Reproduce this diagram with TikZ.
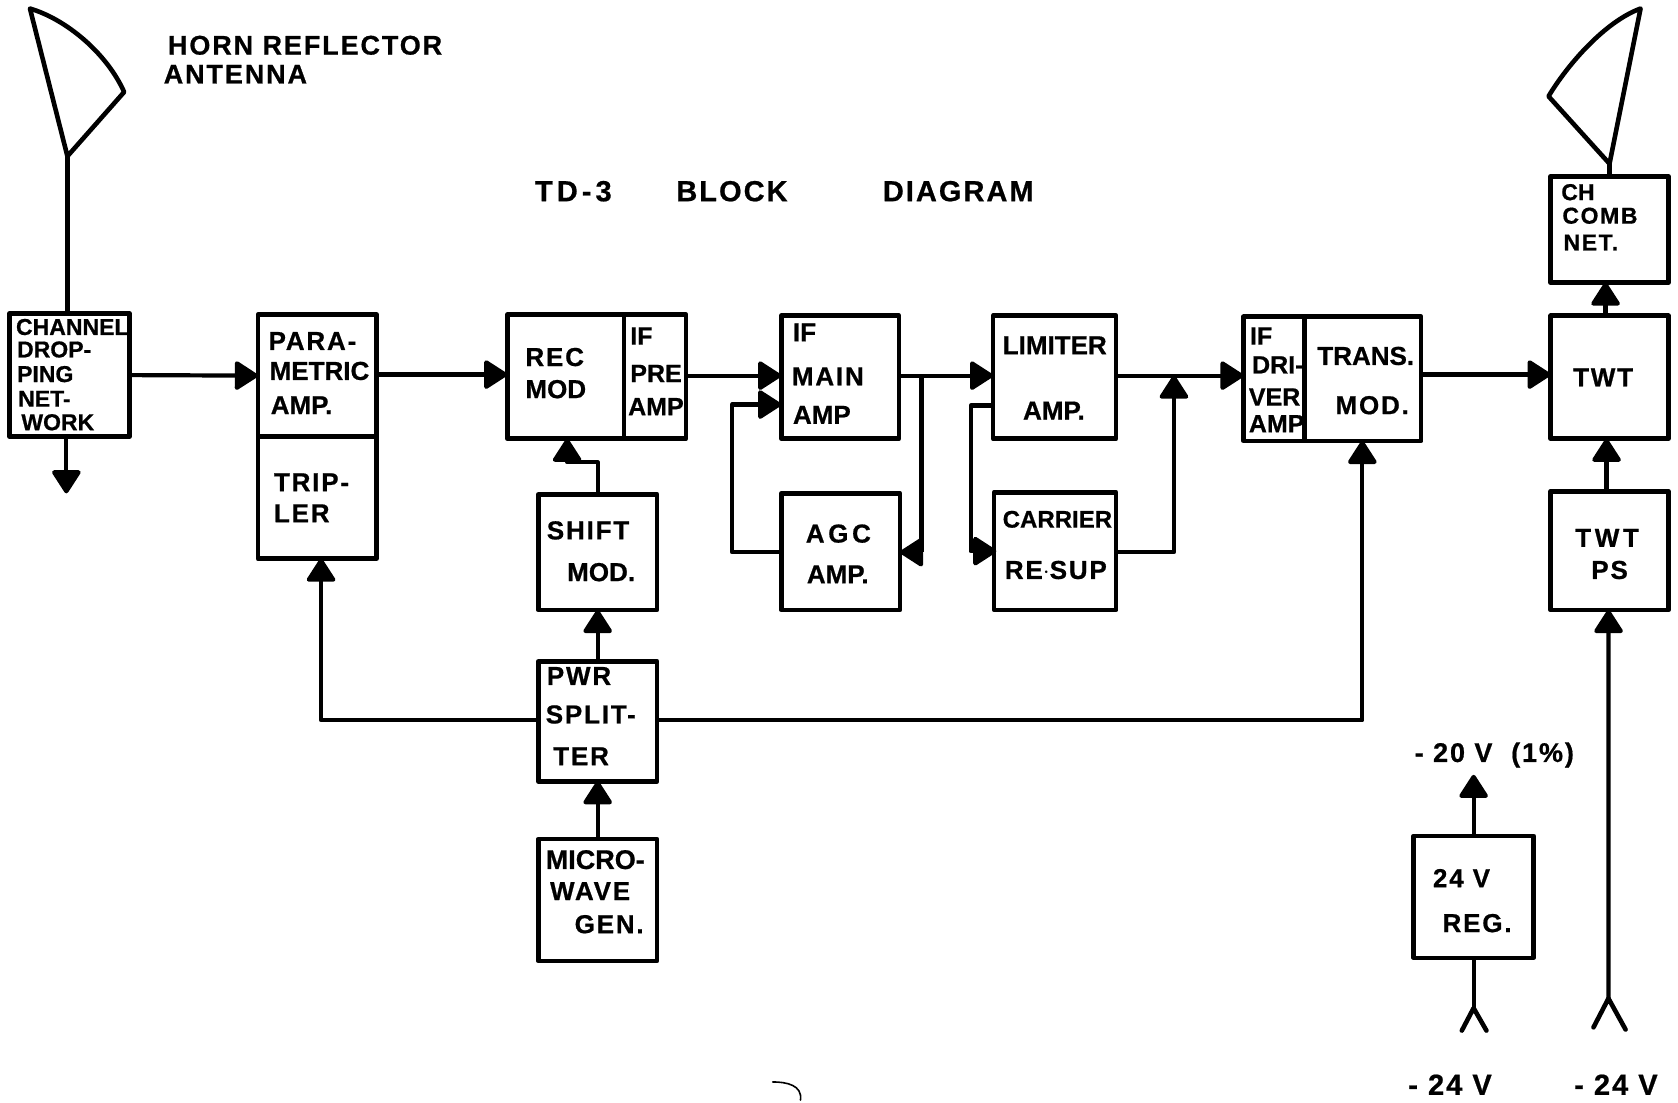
\documentclass[tikz,border=0pt]{standalone}
\usepackage{fontspec}
\setmainfont[BoldFeatures={FakeBold=0.7}]{Liberation Sans}
\newfontfamily\wide[LetterSpace=7,BoldFeatures={FakeBold=0.7}]{Liberation Sans}
\newfontfamily\wider[LetterSpace=14,BoldFeatures={FakeBold=0.7}]{Liberation Sans}
\usetikzlibrary{arrows.meta,calc}
\def\U{1.0702}
\newcommand\fs[1]{\fontsize{#1}{#1}\selectfont}
\newcommand\blk[6]{%
  \pgfmathsetmacro\BCx{(#2+#4)/2}\pgfmathsetmacro\BCy{(#3+#5)/2}%
  \pgfmathsetmacro\BW{(#4-#2)*\U}\pgfmathsetmacro\BH{(#5-#3)*\U}%
  \node[blockbox,minimum width=\BW pt,minimum height=\BH pt] (#1) at (\BCx,\BCy) {#6};}
\newcommand\ltxt[3]{%
  \pgfmathsetmacro\BDx{(#1-\BCx)*\U}\pgfmathsetmacro\BDy{(\BCy-#2)*\U}%
  \rlap{\hspace*{\BDx pt}\raisebox{\BDy pt}[0pt][0pt]{#3}}}
\tikzset{
  blockbox/.style={draw=black,line width=4.6pt,line join=round,inner sep=0pt,outer sep=0pt,
    font=\fs{26}\bfseries},
  free/.style={anchor=base west,inner sep=0pt,outer sep=0pt,font=\fs{27}\bfseries},
  conn/.style={draw=black,line width=4.2pt,line join=round},
  flow/.style={conn,-{Triangle[length=25pt,width=31pt,round]}},
  horn/.style={draw=black,line width=4.6pt,line join=round,line cap=round},
}
\begin{document}
\begin{tikzpicture}[x=\U pt,y=-\U pt]
\useasboundingbox (0,0) rectangle (1568,1030.65);
\blk{chan}{9}{293}{121}{408}{\fs{23}\ltxt{15}{313}{CHANNEL}\ltxt{16}{334}{DROP-}\ltxt{16}{357}{PING}\ltxt{17}{380}{NET-}\ltxt{20}{402}{WORK}}
\blk{param}{241}{294}{352}{408}{\ltxt{251}{327}{\wide PARA-}\ltxt{252}{355}{METRIC}\ltxt{253}{387}{AMP.}}
\blk{trip}{241}{408}{352}{522}{\ltxt{256}{459}{\wide TRIP-}\ltxt{256}{488}{\wide LER}}
\blk{rec}{474}{294}{583}{410}{\ltxt{491}{342}{\wide REC}\ltxt{491}{372}{MOD}}
\blk{pre}{583}{294}{641}{410}{\fs{25}\ltxt{589}{322}{IF}\ltxt{589}{357}{PRE}\ltxt{587}{388}{AMP}}
\blk{main}{730}{295}{840}{410}{\ltxt{741}{319}{IF}\ltxt{740}{360}{\wide MAIN}\ltxt{741}{396}{AMP}}
\blk{lim}{928}{295}{1043}{410}{\ltxt{937}{331}{LIMITER}\ltxt{956}{392}{AMP.}}
\blk{drv}{1162}{296}{1219}{412}{\fs{25}\ltxt{1168}{322}{IF}\ltxt{1170}{349}{DRI-}\ltxt{1167}{379}{VER}\ltxt{1167}{404}{AMP.}}
\blk{trans}{1219}{296}{1328}{412}{\ltxt{1231}{341}{TRANS.}\ltxt{1248}{387}{\wide MOD.}}
\blk{twt}{1449}{295}{1559}{410}{\ltxt{1470}{361}{\wide TWT}}
\blk{comb}{1449}{165}{1559}{264}{\fs{23}\ltxt{1459}{187}{CH}\ltxt{1460}{209}{\wide COMB}\ltxt{1461}{234}{\wide NET.}}
\blk{twtps}{1449}{459}{1559}{570}{\ltxt{1472}{511}{\wider TWT}\ltxt{1487}{541}{\wide PS}}
\blk{shift}{503}{462}{614}{570}{\ltxt{511}{504}{\wide SHIFT}\ltxt{530}{543}{MOD.}}
\blk{pwr}{503}{618}{614}{730}{\ltxt{511}{640}{\wide PWR}\ltxt{510}{676}{\wide SPLIT-}\ltxt{517}{715}{\wide TER}}
\blk{micro}{503}{784}{614}{898}{\ltxt{510}{812}{\fs{27}MICRO-}\ltxt{514}{841}{\wide WAVE}\ltxt{537}{872}{\wide GEN.}}
\blk{agc}{730}{461}{841}{570}{\ltxt{753}{507}{\wider AGC}\ltxt{754}{545}{AMP.}}
\blk{car}{929}{460}{1043}{570}{\fs{24}\ltxt{937}{493}{CARRIER}\ltxt{939}{541}{\fs{26}\wide RE$\cdot$SUP}}
\blk{reg}{1321}{781}{1433}{895}{\ltxt{1339}{829}{\wide 24 V}\ltxt{1348}{871}{\wide REG.}}
% free labels
\node[free] (hornlabel) at (157,51) {\wide HORN REFLECTOR};
\node[free] (antlabel) at (153,78) {\wide ANTENNA};
\node[free,font=\fs{29}\bfseries] (tdthree) at (500,188) {\wider TD-3};
\node[free,font=\fs{29}\bfseries] (tdblock) at (632,188) {\wide BLOCK};
\node[free,font=\fs{29}\bfseries] (tddiag) at (825,188) {\wide DIAGRAM};
\node[free] (vtwenty) at (1322,712) {\wide - 20 V \ (1\%)};
\node[free,font=\fs{29}\bfseries] (vleft) at (1316,1023) {\wide - 24 V};
\node[free,font=\fs{29}\bfseries] (vright) at (1471,1023) {\wide - 24 V};
% antennas
\coordinate (hornL) at (63,146);
\coordinate (hornR) at (1504,153);
\draw[horn] (28,8) .. controls (62,18) and (100,50) .. (116,86) -- (hornL) -- cycle;
\draw[horn] (1533,8) .. controls (1500,20) and (1465,60) .. (1447,90) -- (hornR) -- cycle;
\draw[conn] (hornL) -- (hornL |- chan.north);
\draw[conn] (hornR) -- (hornR |- comb.north);
% coordinates
\coordinate (chanout) at (62,461);
\coordinate (agcloop) at (684,516);
\coordinate (mainin) at (730,378);
\coordinate (branch) at (861,351);
\coordinate (limout) at (928,379);
\coordinate (carin) at (931,515);
\coordinate (sumjoin) at (1097,351);
\coordinate (vout) at (1377,724);
\coordinate (forkA) at (1377,942);
\coordinate (forkB) at (1503,933);
\coordinate (shiftbend) at (558,432);
\coordinate (recin) at (530,410);
\coordinate (tripin) at (300,522);
\coordinate (transin) at (1273,412);
% flows
\draw[flow] (chan.south -| chanout) -- (chanout);
\draw[flow] (chan.east) -- (param.west);
\draw[flow] (param.east |- 0,350) -- (rec.west |- 0,350);
\draw[flow] (pre.east |- 0,351) -- (main.west |- 0,351);
\draw[flow] (main.east |- 0,351) -- (lim.west |- 0,351);
\draw[flow] (lim.east |- 0,351) -- (drv.west |- 0,351);
\draw[flow] (trans.east |- 0,350) -- (twt.west |- 0,350);
\draw[flow] (agc.west |- agcloop) -- (agcloop) |- (mainin);
\draw[flow] (branch) |- (agc.east |- 0,516);
\draw[flow] (limout) -- (907,379) |- (carin);
\draw[flow] (car.east |- 0,516) -| (sumjoin);
\draw[flow] (shift.north) |- (recin |- shiftbend) -- (recin);
\draw[flow] (pwr.north) -- (shift.south);
\draw[flow] (micro.north) -- (pwr.south);
\draw[flow] (pwr.west |- 0,673) -| (tripin);
\draw[flow] (pwr.east |- 0,673) -| (transin);
\draw[flow] ([xshift=-4pt]twt.north) -- ([xshift=-4pt]comb.south);
\draw[flow] ([xshift=-3pt]twtps.north) -- ([xshift=-3pt]twt.south);
\draw[flow] (forkB) -- ([xshift=-1pt]twtps.south);
\draw[flow] (reg.north -| vout) -- (vout);
\draw[conn] (reg.south -| forkA) -- (forkA);
\draw[horn] (1366,963) -- (forkA) -- (1389,963);
\draw[horn] (1489,960) -- (forkB) -- (1519,962);
% stray mark
\draw[line width=1.6pt,line cap=round] (722,1011) .. controls (735,1011) and (750,1014) .. (748,1028);
\end{tikzpicture}
\end{document}
